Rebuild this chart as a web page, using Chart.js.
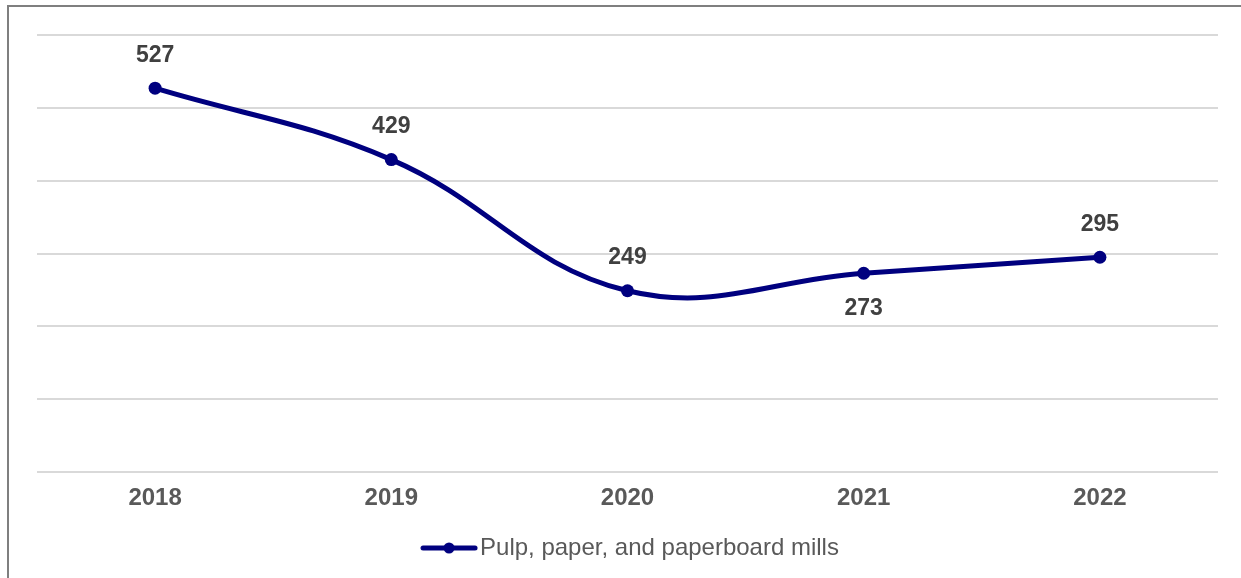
<!DOCTYPE html>
<html lang="en">
<head>
<meta charset="UTF-8">
<title>Pulp, paper, and paperboard mills</title>
<script src="https://cdn.jsdelivr.net/npm/chart.js"></script>
<style>
  body {
    margin: 0;
    background: #fff;
    overflow: hidden;
  }
  #frame {
    position: absolute;
    left: 7px;
    top: 5px;
    width: 1300px;
    height: 700px;
    border-left: 2px solid #7f7f7f;
    border-top: 2px solid #7f7f7f;
  }
  #wrap {
    position: absolute;
    left: 0;
    top: 0;
    width: 1241px;
    height: 578px;
  }
</style>
</head>
<body>
<div id="frame"></div>
<div id="wrap"><canvas id="chart" width="1241" height="578"></canvas></div>
<script>
const years = ['2018', '2019', '2020', '2021', '2022'];
const values = [527, 429, 249, 273, 295];
const labelSide = ['above', 'above', 'above', 'below', 'above'];
const seriesName = 'Pulp, paper, and paperboard mills';
const navy = '#00007f';
const fontFamily = '"Liberation Sans", Arial, sans-serif';

// legend symbol: a short line with a dot in the middle
const legendMark = document.createElement('canvas');
legendMark.width = 58;
legendMark.height = 14;
(function () {
  const c = legendMark.getContext('2d');
  c.strokeStyle = navy;
  c.lineWidth = 5;
  c.lineCap = 'round';
  c.beginPath();
  c.moveTo(3, 7);
  c.lineTo(55, 7);
  c.stroke();
  c.fillStyle = navy;
  c.beginPath();
  c.arc(29, 7, 5.5, 0, Math.PI * 2);
  c.fill();
})();

// value labels above / below each point
const valueLabels = {
  id: 'valueLabels',
  afterDatasetsDraw(chart) {
    const ctx = chart.ctx;
    const meta = chart.getDatasetMeta(0);
    ctx.save();
    ctx.font = 'bold 23px ' + fontFamily;
    ctx.fillStyle = '#404040';
    ctx.textAlign = 'center';
    ctx.textBaseline = 'middle';
    meta.data.forEach((pt, i) => {
      const dy = labelSide[i] === 'below' ? 35 : -33;
      ctx.fillText(String(values[i]), pt.x, pt.y + dy);
    });
    ctx.restore();
  }
};

// nudge the legend a little to the right
const legendShift = {
  id: 'legendShift',
  afterLayout(chart) {
    if (chart.legend) {
      chart.legend.left += 7;
      chart.legend.right += 7;
    }
  }
};

new Chart(document.getElementById('chart'), {
  type: 'line',
  data: {
    labels: years,
    datasets: [{
      label: seriesName,
      data: values,
      borderColor: navy,
      backgroundColor: navy,
      borderWidth: 5,
      pointRadius: 6.5,
      pointHoverRadius: 6.5,
      pointBackgroundColor: navy,
      pointBorderWidth: 0,
      tension: 0.4,
      fill: false
    }]
  },
  options: {
    responsive: false,
    animation: false,
    events: [],
    layout: {
      padding: { left: 37, right: 23, top: 35, bottom: 8 }
    },
    scales: {
      x: {
        offset: true,
        grid: { display: false, drawTicks: false },
        border: { display: false },
        ticks: {
          color: '#595959',
          padding: 12,
          font: { family: fontFamily, size: 24, weight: 'bold' }
        }
      },
      y: {
        min: 0,
        max: 600,
        ticks: { display: false, stepSize: 100 },
        grid: { color: '#d9d9d9', lineWidth: 2, drawTicks: false, tickLength: 0 },
        border: { display: false }
      }
    },
    plugins: {
      tooltip: { enabled: false },
      legend: {
        position: 'bottom',
        labels: {
          color: '#595959',
          usePointStyle: true,
          pointStyleWidth: 38,
          boxHeight: 14,
          padding: 11,
          font: { family: fontFamily, size: 24 },
          generateLabels: () => [{
            text: seriesName,
            pointStyle: legendMark,
            fillStyle: navy,
            strokeStyle: navy,
            lineWidth: 0,
            datasetIndex: 0,
            fontColor: '#595959'
          }]
        }
      }
    }
  },
  plugins: [valueLabels, legendShift]
});
</script>
</body>
</html>
